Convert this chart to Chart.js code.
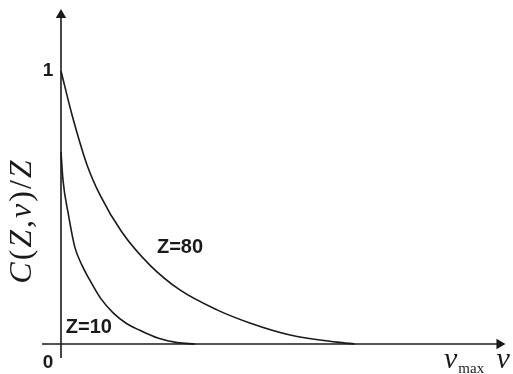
<!DOCTYPE html>
<html>
<head>
<meta charset="utf-8">
<style>
  html, body { margin: 0; padding: 0; background: #fff; }
  #wrap { width: 513px; height: 374px; }
</style>
<script src="https://cdn.jsdelivr.net/npm/chart.js@4/dist/chart.umd.min.js"></script>
</head>
<body>
<div id="wrap"><canvas id="c" width="513" height="374"></canvas></div>
<script>
// Frequency in units of nu_max
const nuZ80 = [0, 0.028, 0.066, 0.099, 0.154, 0.225, 0.301, 0.395, 0.478, 0.580, 0.699, 0.744];
const cZ80  = [1.0, 0.839, 0.656, 0.545, 0.410, 0.289, 0.198, 0.125, 0.077, 0.033, 0.007, 0.0];

const nuZ10 = [0, 0.005, 0.018, 0.035, 0.053, 0.073, 0.100, 0.132, 0.165, 0.200, 0.245, 0.294, 0.339];
const cZ10  = [0.703, 0.601, 0.480, 0.355, 0.289, 0.234, 0.168, 0.114, 0.076, 0.050, 0.022, 0.005, 0.0];

const yTickLabels = [{ v: 0, t: '0' }, { v: 1, t: '1' }];
const curveLabels = [
  { t: 'Z=80', x: 0.243, y: 0.355 },
  { t: 'Z=10', x: 0.012, y: 0.062 }
];

// Axis extents (data units)
const xAxisFrom = -0.048, xAxisTo = 1.11;
const yAxisFrom = -0.051, yAxisTo = 1.205;

const toPts = (xs, ys) => xs.map((x, i) => ({ x, y: ys[i] }));

const ink = '#1a1a1a';

const annotate = {
  id: 'annotate',
  afterDatasetsDraw(chart) {
    const { ctx, scales: { x, y } } = chart;
    ctx.save();
    ctx.fillStyle = ink;
    ctx.textBaseline = 'middle';

    // tick labels
    ctx.font = 'bold 19px "Liberation Sans", Arial, sans-serif';
    ctx.textAlign = 'center';
    yTickLabels.forEach(l => {
      const py = l.v === 0 ? y.getPixelForValue(0) + 19 : y.getPixelForValue(l.v);
      ctx.fillText(l.t, x.getPixelForValue(0) - 13, py);
    });

    // curve labels
    ctx.font = 'bold 20px "Liberation Sans", Arial, sans-serif';
    ctx.textAlign = 'left';
    curveLabels.forEach(l => ctx.fillText(l.t, x.getPixelForValue(l.x), y.getPixelForValue(l.y)));

    // x axis labels: nu_max and nu
    const base = y.getPixelForValue(0) + 24;
    ctx.textBaseline = 'alphabetic';
    ctx.textAlign = 'left';
    ctx.font = 'italic 30px "Liberation Serif", "Times New Roman", serif';
    const nx = x.getPixelForValue(1) - 12;
    ctx.fillText('\u03BD', nx, base);
    const nw = ctx.measureText('\u03BD').width;
    ctx.font = '15px "Liberation Serif", "Times New Roman", serif';
    ctx.fillText('max', nx + nw + 1, base + 5);
    ctx.font = 'italic 30px "Liberation Serif", "Times New Roman", serif';
    ctx.fillText('\u03BD', x.getPixelForValue(xAxisTo) - 3, base);

    // y axis title, rotated
    const parts = [
      ['C', true], ['(', false], ['Z', true], [',', false],
      ['\u03BD', true], [')', false], ['/', false], ['Z', true]
    ];
    ctx.translate(31, 221);
    ctx.rotate(-Math.PI / 2);
    const fontFor = it => (it ? 'italic ' : '') + '32px "Liberation Serif", "Times New Roman", serif';
    let total = 0;
    parts.forEach(p => { ctx.font = fontFor(p[1]); total += ctx.measureText(p[0]).width + 2; });
    let cx = -total / 2;
    parts.forEach(p => {
      ctx.font = fontFor(p[1]);
      ctx.fillText(p[0], cx, 0);
      cx += ctx.measureText(p[0]).width + 2;
    });
    ctx.restore();
  }
};

new Chart(document.getElementById('c'), {
  type: 'scatter',
  data: {
    datasets: [
      {
        label: 'x axis',
        data: [{ x: xAxisFrom, y: 0 }, { x: xAxisTo, y: 0 }],
        showLine: true, borderColor: ink, borderWidth: 1.6,
        pointRadius: [0, 6], pointStyle: 'triangle', pointRotation: 90,
        backgroundColor: ink, pointBorderWidth: 0
      },
      {
        label: 'y axis',
        data: [{ x: 0, y: yAxisFrom }, { x: 0, y: yAxisTo }],
        showLine: true, borderColor: ink, borderWidth: 1.6,
        pointRadius: [0, 6], pointStyle: 'triangle', pointRotation: 0,
        backgroundColor: ink, pointBorderWidth: 0
      },
      {
        label: 'Z=80',
        data: toPts(nuZ80, cZ80),
        showLine: true, cubicInterpolationMode: 'monotone',
        borderColor: ink, borderWidth: 1.6, pointRadius: 0
      },
      {
        label: 'Z=10',
        data: toPts(nuZ10, cZ10),
        showLine: true, cubicInterpolationMode: 'monotone',
        borderColor: ink, borderWidth: 1.6, pointRadius: 0
      }
    ]
  },
  options: {
    responsive: false,
    animation: false,
    events: [],
    layout: { padding: 0, autoPadding: false },
    plugins: { legend: { display: false }, tooltip: { enabled: false } },
    scales: {
      x: { type: 'linear', display: false, min: -0.1544, max: 1.1443 },
      y: { type: 'linear', display: false, min: -0.1099, max: 1.2601 }
    }
  },
  plugins: [annotate]
});
</script>
</body>
</html>
